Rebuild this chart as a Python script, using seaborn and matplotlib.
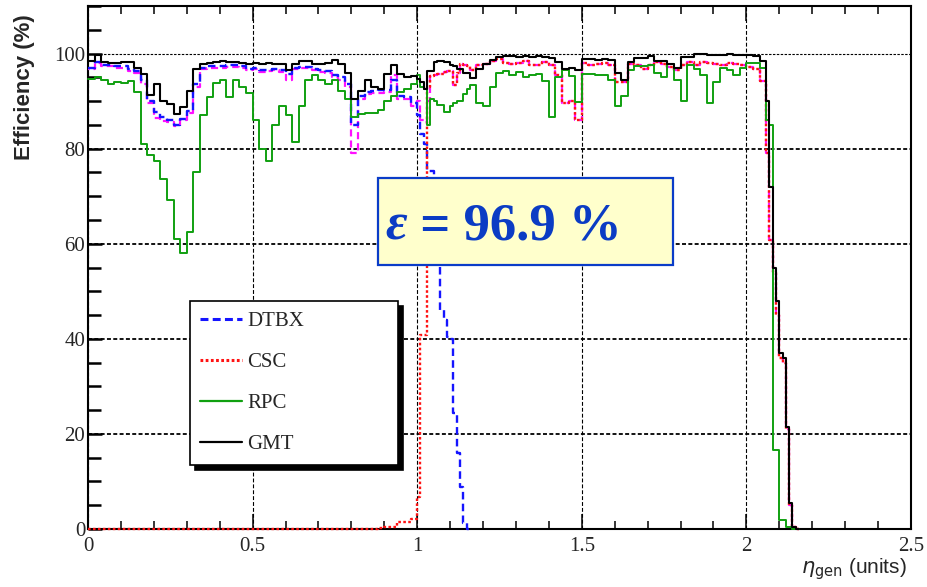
import numpy as np
import pandas as pd
import matplotlib
matplotlib.use("Agg")
import matplotlib.pyplot as plt
import seaborn as sns
from matplotlib.lines import Line2D
from matplotlib.patches import Rectangle
from matplotlib.ticker import FixedLocator, FixedFormatter, MultipleLocator

# ---------------------------------------------------------------------------
# Binning in generated pseudorapidity: 0.02 wide, refined to 0.01 across the
# barrel/endcap overlap (1.00-1.16) and at the endcap edge (2.06-2.16).
# ---------------------------------------------------------------------------
ETA_EDGES = np.round(np.concatenate([
    np.linspace(0.00, 1.00, 51)[:-1],
    np.linspace(1.00, 1.16, 17)[:-1],
    np.linspace(1.16, 2.06, 46)[:-1],
    np.linspace(2.06, 2.16, 11),
]), 3)

# Trigger efficiency (%) per bin
GMT = [
    98.5, 99.6, 98.2, 98.0, 98.0, 98.2, 98.2, 97.0, 95.7, 91.2,
    93.6, 90.1, 89.4, 87.3, 88.7, 92.2, 96.8, 97.7, 98.0, 98.2,
    98.4, 98.2, 98.2, 98.0, 97.8, 98.0, 97.8, 98.0, 97.7, 97.8,
    96.6, 97.7, 98.4, 98.5, 97.7, 97.8, 98.0, 98.7, 97.8, 96.0,
    90.5, 92.2, 94.5, 93.0, 92.5, 95.8, 97.5, 95.8, 95.0, 95.3,
    94.7, 94.0, 92.6, 96.4, 96.4, 98.2, 98.4, 98.4, 98.2, 98.2,
    97.5, 97.4, 96.7, 96.7, 96.0, 96.0,
    94.8, 96.7, 97.8, 98.6, 99.2, 99.4, 99.5, 99.2, 99.5, 99.3,
    99.5, 99.2, 99.0, 98.3, 96.8, 97.0, 96.5, 98.8, 98.8, 98.6,
    98.8, 98.6, 96.0, 94.5, 98.2, 99.0, 99.0, 99.4, 98.5, 98.5,
    97.8, 97.0, 99.2, 99.2, 99.8, 99.8, 99.6, 99.6, 99.6, 99.8,
    99.6, 99.6, 99.6, 99.5, 98.5,
    90.0, 72.0, 55.0, 48.0, 37.0, 36.0, 21.5, 5.4, 0.4, 0.0,
]

DTBX = [
    97.0, 98.3, 97.5, 97.5, 97.3, 97.3, 96.8, 96.4, 94.5, 90.0,
    87.7, 86.7, 86.0, 85.0, 86.3, 88.0, 93.5, 97.0, 97.3, 97.3,
    97.3, 97.5, 97.5, 97.3, 96.8, 97.0, 96.5, 96.6, 96.8, 96.6,
    95.8, 97.0, 97.2, 97.2, 96.8, 96.5, 96.3, 95.5, 95.0, 93.5,
    85.0, 91.0, 92.0, 92.2, 92.3, 92.3, 94.5, 91.0, 90.9, 89.5,
    87.0, 83.0, 81.0, 75.4, 75.4, 65.0, 58.0, 46.0, 44.0, 40.3,
    40.0, 24.4, 16.0, 8.9, 1.3, 0.0,
]

CSC = [
    0.0, 0.0, 0.0, 0.0, 0.0, 0.0, 0.0, 0.0, 0.0, 0.0,
    0.0, 0.0, 0.0, 0.0, 0.0, 0.0, 0.0, 0.0, 0.0, 0.0,
    0.0, 0.0, 0.0, 0.0, 0.0, 0.0, 0.0, 0.0, 0.0, 0.0,
    0.0, 0.0, 0.0, 0.0, 0.0, 0.0, 0.0, 0.0, 0.0, 0.0,
    0.0, 0.0, 0.0, 0.0, 0.2, 0.5, 0.5, 1.5, 1.5, 2.0,
    6.7, 40.7, 40.7, 93.0, 95.2, 95.4, 95.7, 95.7, 96.2, 96.4,
    96.4, 93.3, 96.0, 97.8, 97.6, 97.4,
    96.5, 97.5, 97.8, 98.4, 98.8, 98.0, 97.8, 98.0, 98.4, 97.5,
    97.5, 98.3, 97.6, 95.4, 89.5, 90.0, 86.0, 98.0, 97.5, 97.8,
    98.0, 97.5, 94.0, 94.0, 97.8, 97.5, 96.8, 97.5, 98.3, 97.8,
    97.2, 96.5, 97.5, 98.3, 97.5, 98.3, 98.0, 97.8, 97.5, 98.0,
    97.8, 97.5, 97.2, 96.8, 94.2,
    79.0, 60.7, 54.0, 45.0, 36.0, 35.0, 21.0, 5.0, 0.4, 0.0,
]

RPC = [
    94.7, 95.0, 94.5, 93.5, 94.0, 93.7, 94.3, 92.0, 81.0, 78.6,
    77.5, 73.7, 69.1, 61.0, 58.0, 62.4, 75.1, 87.0, 90.8, 93.7,
    94.4, 90.8, 94.5, 93.0, 91.8, 86.0, 80.0, 77.5, 85.0, 89.0,
    87.0, 81.5, 89.0, 94.5, 95.5, 94.5, 93.5, 94.5, 92.2, 90.5,
    86.6, 87.2, 87.4, 87.5, 88.2, 90.0, 91.0, 92.0, 92.5, 93.5,
    95.4, 93.0, 92.5, 85.0, 90.5, 90.0, 89.1, 89.1, 87.7, 87.7,
    89.0, 89.5, 90.1, 90.1, 91.5, 92.5,
    93.3, 89.5, 89.0, 93.0, 96.0, 96.4, 95.5, 96.2, 95.0, 95.5,
    95.8, 94.3, 86.6, 95.0, 96.5, 95.2, 89.8, 95.7, 95.7, 95.4,
    95.4, 94.5, 89.0, 91.0, 96.5, 97.4, 97.4, 97.5, 96.0, 95.0,
    97.8, 94.5, 90.1, 97.5, 96.8, 95.5, 89.5, 94.0, 97.0, 96.6,
    95.5, 97.0, 98.0, 98.0, 97.0,
    86.0, 85.0, 16.6, 16.6, 1.9, 1.9, 0.4, 0.4, 0.0, 0.0,
]

# DT or CSC combined (drawn underneath, not listed in the legend)
DT_OR_CSC = [
    96.8, 98.0, 97.3, 97.3, 97.0, 97.0, 96.3, 96.0, 93.5, 89.5,
    86.5, 85.8, 85.5, 84.8, 86.0, 87.5, 93.0, 96.8, 97.0, 97.0,
    97.0, 97.2, 97.2, 97.0, 96.5, 96.7, 96.2, 96.3, 96.5, 96.2,
    94.5, 96.8, 96.9, 96.9, 96.5, 96.2, 96.0, 95.0, 94.5, 93.0,
    79.0, 90.5, 91.5, 91.8, 91.8, 92.0, 95.5, 90.5, 90.5, 89.0,
    90.0, 86.0, 85.5, 90.0, 95.3, 95.5, 95.7, 95.7, 96.2, 96.4,
    96.4, 93.3, 96.0, 97.8, 97.6, 97.4,
    96.5, 97.5, 97.8, 98.4, 98.8, 98.0, 97.8, 98.0, 98.4, 97.5,
    97.5, 98.3, 97.6, 95.4, 89.5, 90.0, 86.0, 98.0, 97.5, 97.8,
    98.0, 97.5, 94.0, 94.0, 97.8, 97.5, 96.8, 97.5, 98.3, 97.8,
    97.2, 96.5, 97.5, 98.3, 97.5, 98.3, 98.0, 97.8, 97.5, 98.0,
    97.8, 97.5, 97.2, 96.8, 94.2,
    79.0, 60.7, 54.0, 45.0, 36.0, 35.0, 21.0, 5.0, 0.4, 0.0,
]

LEGEND_LABELS = ["DTBX", "CSC", "RPC", "GMT"]
X_TICKS = [0, 0.5, 1, 1.5, 2, 2.5]
X_TICK_LABELS = ["0", "0.5", "1", "1.5", "2", "2.5"]
Y_TICKS = [0, 20, 40, 60, 80, 100]
Y_TICK_LABELS = ["0", "20", "40", "60", "80", "100"]
OVERALL_EFF = "96.9"

# colours / styles
C_DT, C_CSC, C_RPC, C_GMT, C_COMB = "#1515ff", "#ff1212", "#10a010", "#000000", "#ff10ff"
LS_DT = (0, (3.2, 1.8))
LS_CSC = (0, (1.1, 1.0))
LS_COMB = (2.5, (3.2, 1.8))

sns.set_theme(style="white")
plt.rcParams["font.family"] = ["Liberation Serif", "DejaVu Sans"]
plt.rcParams["axes.axisbelow"] = True

fig, ax = plt.subplots(figsize=(9.28, 5.87), dpi=100)
fig.subplots_adjust(left=88 / 928, right=911 / 928, bottom=1 - 529 / 587, top=1 - 6 / 587)


def draw_step(values, color, lw, ls, z):
    e = ETA_EDGES[: len(values) + 1]
    df = pd.DataFrame({"eta": (e[:-1] + e[1:]) / 2, "eff": values})
    sns.histplot(data=df, x="eta", weights="eff", bins=[float(v) for v in e],
                 element="step", fill=False, color=color, linewidth=lw,
                 linestyle=ls, zorder=z, clip_on=False, ax=ax)


draw_step(DT_OR_CSC, C_COMB, 1.6, LS_COMB, 2.51)
draw_step(DTBX, C_DT, 1.7, LS_DT, 2.52)
draw_step(CSC, C_CSC, 1.7, LS_CSC, 2.53)
draw_step(RPC, C_RPC, 1.4, "-", 2.55)
draw_step(GMT, C_GMT, 1.5, "-", 2.6)

# axes ranges, ticks, grid
ax.set_xlim(0, 2.5)
ax.set_ylim(0, 110)
ax.xaxis.set_major_locator(FixedLocator(X_TICKS))
ax.xaxis.set_major_formatter(FixedFormatter(X_TICK_LABELS))
ax.xaxis.set_minor_locator(MultipleLocator(0.1))
ax.yaxis.set_major_locator(FixedLocator(Y_TICKS))
ax.yaxis.set_major_formatter(FixedFormatter(Y_TICK_LABELS))
ax.yaxis.set_minor_locator(MultipleLocator(5))

ax.tick_params(axis="x", which="both", direction="in", top=True, bottom=True,
               labeltop=False, color="black", labelsize=15, pad=5.5)
ax.tick_params(axis="x", which="major", length=11, width=1.1)
ax.tick_params(axis="x", which="minor", length=5.5, width=1.1)
ax.tick_params(axis="y", which="both", direction="in", left=True, right=False,
               color="black", labelsize=15, pad=2)
ax.tick_params(axis="y", which="major", length=10, width=1.8)
ax.tick_params(axis="y", which="minor", length=9, width=1.8)

ax.grid(True, axis="y", which="major", color="black", linestyle=(0, (2.2, 1.3)), linewidth=1.3)
ax.grid(True, axis="x", which="major", color="black", linestyle=(0, (3.5, 1.8)), linewidth=0.8)
ax.yaxis.get_gridlines()[-1].set_linewidth(0.8)

for sp in ax.spines.values():
    sp.set_visible(True)
    sp.set_color("black")
    sp.set_linewidth(1.5)

ax.set_ylabel("Efficiency (%)", fontfamily="Liberation Sans", fontweight="bold", fontsize=16)
ax.yaxis.set_label_coords(-0.064, 0.844)
ax.set_xlabel(r"$\eta_{\mathrm{gen}}$ (units)", fontfamily="Liberation Sans", fontsize=15, ha="right")
ax.xaxis.set_label_coords(0.995, -0.052)

# legend
handles = [
    Line2D([], [], color=C_DT, lw=2.2, linestyle=(0, (2.6, 1.4))),
    Line2D([], [], color=C_CSC, lw=2.2, linestyle=(0, (0.9, 0.8))),
    Line2D([], [], color=C_RPC, lw=1.6),
    Line2D([], [], color=C_GMT, lw=1.6),
]
leg = ax.legend(handles, LEGEND_LABELS, loc="upper left",
                bbox_to_anchor=(0.1239, 0.1262, 0.2527, 0.3097), mode="expand",
                borderaxespad=0, prop={"family": "Liberation Serif", "size": 15},
                handlelength=2.0, handletextpad=0.25, borderpad=0.5,
                labelspacing=1.03, frameon=True, fancybox=False,
                shadow={"color": "black", "alpha": 1.0, "ox": 3.6, "oy": -3.6})
leg.get_frame().set_edgecolor("black")
leg.get_frame().set_linewidth(1.2)
leg.get_frame().set_facecolor("white")
leg.get_frame().set_alpha(1.0)

# overall efficiency box
box = Rectangle((378 / 928, 1 - 265 / 587), (673 - 378) / 928, 87 / 587,
                transform=fig.transFigure, facecolor="#ffffcc", edgecolor="#0a3cc8",
                linewidth=1.6, zorder=10)
ax.add_patch(box)
eps = ax.text(385 / 928, 1 - 240 / 587, "\u03b5", transform=fig.transFigure,
              fontfamily="Liberation Serif", fontstyle="italic", fontweight="bold",
              fontsize=38, color="#0b3cc4", va="baseline", ha="left", zorder=11)
ax.annotate(f" = {OVERALL_EFF} %", xy=(1, 0), xycoords=eps, va="bottom", ha="left",
            fontfamily="Liberation Serif", fontweight="bold", fontsize=38,
            color="#0b3cc4", zorder=11)

fig.savefig("out.png", dpi=100)
